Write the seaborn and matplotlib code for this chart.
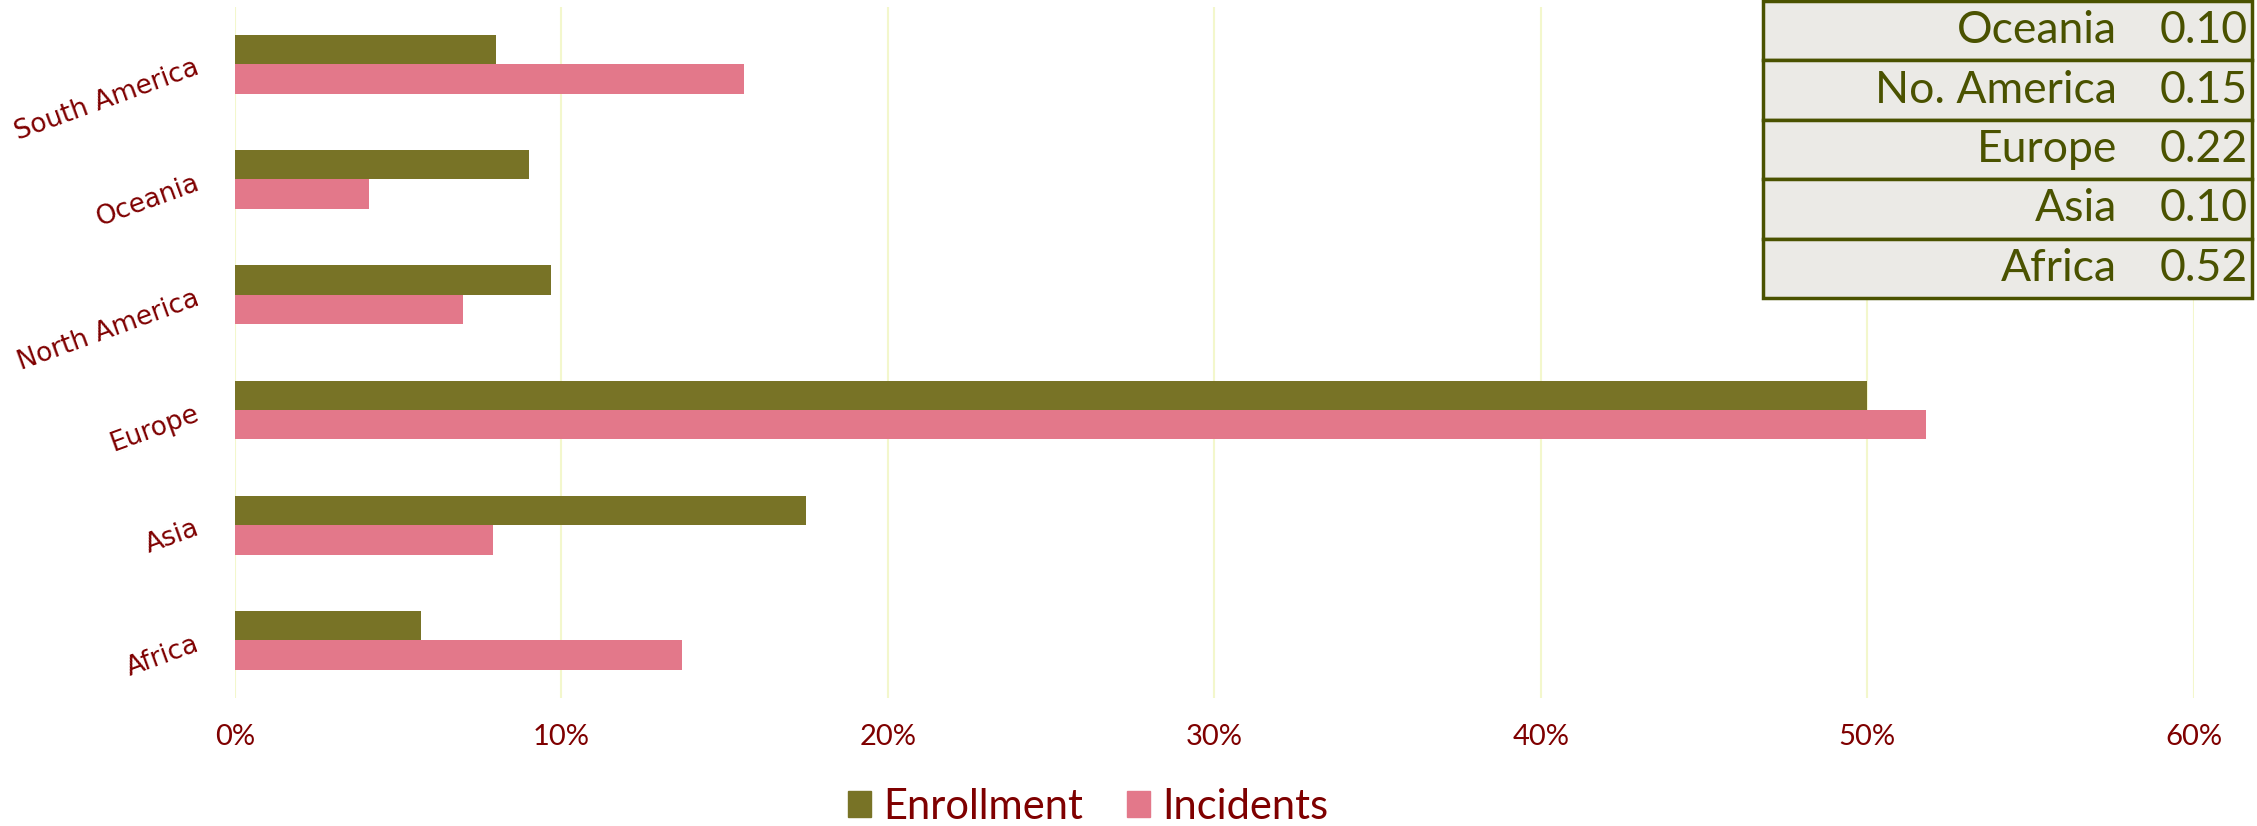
import seaborn as sns
import matplotlib.pyplot as plt
import pandas as pd
from matplotlib.patches import Rectangle, Patch

# bar data (share of total, in %)
regions = ["South America", "Oceania", "North America", "Europe", "Asia", "Africa"]
enrollment = [8.0, 9.0, 9.7, 50.0, 17.5, 5.7]
incidents = [15.6, 4.1, 7.0, 51.8, 7.9, 13.7]

# little table in the top right corner
table_regions = ["Oceania", "No. America", "Europe", "Asia", "Africa"]
table_values = ["0.10", "0.15", "0.22", "0.10", "0.52"]

olive = "#787326"
pink = "#E3788A"
darkred = "#7F0000"
tablegreen = "#4A5200"

df = pd.DataFrame({
    "region": regions * 2,
    "value": enrollment + incidents,
    "series": ["Enrollment"] * len(regions) + ["Incidents"] * len(regions),
})

sns.set_style("white")
plt.rcParams["font.family"] = ["Lato", "DejaVu Sans"]

fig = plt.figure(figsize=(22.57, 8.26), dpi=100)
ax = fig.add_axes([0.104, 0.155, 0.868, 0.837])

sns.barplot(data=df, y="region", x="value", hue="series", order=regions,
            hue_order=["Enrollment", "Incidents"], palette=[olive, pink],
            width=0.51, orient="h", legend=False, ax=ax, saturation=1,
            linewidth=0)

ax.set_xlim(0, 60)
ax.set_xticks(range(0, 61, 10))
ax.set_xticklabels([f"{t}%" for t in range(0, 61, 10)], color=darkred, fontsize=21)
ax.xaxis.grid(True, color="#F3F7CC", linewidth=1.5)
ax.set_axisbelow(True)
for s in ax.spines.values():
    s.set_visible(False)
ax.tick_params(axis="x", length=0, pad=19)
ax.tick_params(axis="y", length=0, pad=27)
ax.set_yticks(range(len(regions)))
ax.set_yticklabels(regions, rotation=20, color=darkred, fontsize=19,
                   family="DejaVu Sans", ha="right", rotation_mode="anchor")
ax.set_xlabel("")
ax.set_ylabel("")

# legend at the bottom
handles = [Patch(color=olive, label="Enrollment"), Patch(color=pink, label="Incidents")]
leg = fig.legend(handles=handles, loc="center", bbox_to_anchor=(0.482, 0.023), ncol=2,
                 frameon=False, fontsize=30, handlelength=0.57, handleheight=0.57,
                 handletextpad=0.28, columnspacing=1.05)
for t in leg.get_texts():
    t.set_color(darkred)

# table overlay
tx0, tx1 = 1763 / 2257, 2252 / 2257
ty_top, ty_bot = 1 - 1 / 826, 1 - 298 / 826
rh = (ty_top - ty_bot) / len(table_regions)
for i, (name, val) in enumerate(zip(table_regions, table_values)):
    y0 = ty_top - (i + 1) * rh
    fig.patches.append(Rectangle((tx0, y0), tx1 - tx0, rh, transform=fig.transFigure,
                                 facecolor="#EBEAE6", edgecolor=tablegreen, linewidth=2.5))
    fig.text(2117 / 2257, y0 + rh / 2, name, ha="right", va="center",
             color=tablegreen, fontsize=32)
    fig.text(2248 / 2257, y0 + rh / 2, val, ha="right", va="center",
             color=tablegreen, fontsize=32)

fig.savefig("out.png", dpi=100)
